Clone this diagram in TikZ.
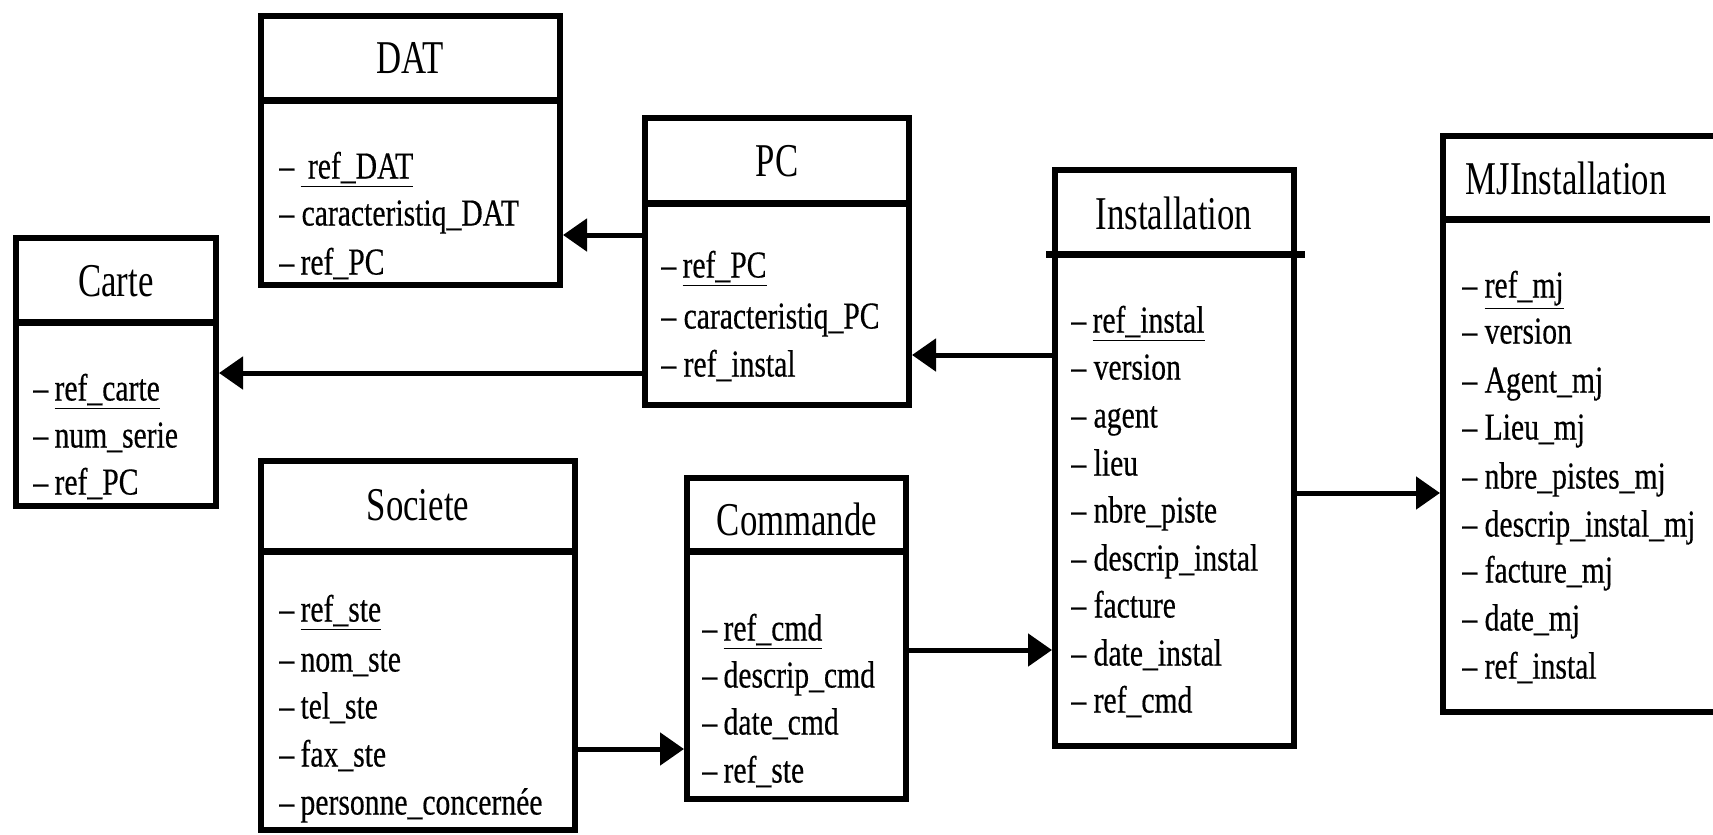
\documentclass[tikz,border=0pt]{standalone}
\usepackage{fontspec}
\setmainfont[FakeStretch=0.78,FakeBold=0.4]{Liberation Serif}
\newfontfamily\ttlfont[FakeStretch=0.74]{Liberation Serif}
\usetikzlibrary{arrows.meta,fit}
\begin{document}
\begin{tikzpicture}[x=0.5pt,y=-0.5pt,
  box/.style={draw, line width=3pt, inner sep=0pt},
  divider/.style={line width=3.5pt},
  ttl/.style={inner sep=0pt, font=\ttlfont\fontsize{23.5}{26}\selectfont},
  attr/.style={anchor=west, inner sep=0pt, font=\fontsize{19}{21}\selectfont, text height=12.5pt, text depth=0pt},
  conn/.style={line width=2.5pt, -{Triangle[length=12pt,width=16pt]}}]
\clip (0,0) rectangle (1713,835);
% DAT
\node[box, fit={(261,16) (560,285)}] (dat) {};
\draw[divider] (dat.west |- 0,100) -- (dat.east |- 0,100);
\node[ttl] (datT) at (410,58) {DAT};
\node[attr] (dat1) at (279,166) {–\,\underline{\ ref\_DAT}};
\node[attr] (dat2) at (279,213) {– caracteristiq\_DAT};
\node[attr] (dat3) at (279,262) {–\,ref\_PC};
% Carte
\node[box, fit={(16,238) (216,506)}] (carte) {};
\draw[divider] (carte.west |- 0,322) -- (carte.east |- 0,322);
\node[ttl] (carteT) at (116,281) {Carte};
\node[attr] (carte1) at (33,388) {–\,\underline{ref\_carte}};
\node[attr] (carte2) at (33,435) {–\,num\_serie};
\node[attr] (carte3) at (33,482) {–\,ref\_PC};
% PC
\node[box, fit={(645,118) (909,405)}] (pc) {};
\draw[divider] (pc.west |- 0,203) -- (pc.east |- 0,203);
\node[ttl] (pcT) at (777,161) {PC};
\node[attr] (pc1) at (661,265) {–\,\underline{ref\_PC}};
\node[attr] (pc2) at (661,316) {– caracteristiq\_PC};
\node[attr] (pc3) at (661,364) {– ref\_instal};
% Installation
\node[box, fit={(1055,170) (1294,746)}] (inst) {};
\draw[divider] ([xshift=-3pt]inst.west |- 0,254) -- ([xshift=4pt]inst.east |- 0,254);
\node[ttl] (instT) at (1174,213) {Installation};
\node[attr] (inst1) at (1071,320) {–\,\underline{ref\_instal}};
\node[attr] (inst2) at (1071,367) {– version};
\node[attr] (inst3) at (1071,415) {– agent};
\node[attr] (inst4) at (1071,463) {– lieu};
\node[attr] (inst5) at (1071,510) {– nbre\_piste};
\node[attr] (inst6) at (1071,558) {– descrip\_instal};
\node[attr] (inst7) at (1071,605) {– facture};
\node[attr] (inst8) at (1071,653) {– date\_instal};
\node[attr] (inst9) at (1071,700) {– ref\_cmd};
% MJInstallation
\node[box, fit={(1443,136) (1740,712)}] (mj) {};
\draw[divider] (mj.west |- 0,219) -- (1710,219);
\node[ttl] (mjT) at (1566,178) {MJInstallation};
\node[attr] (mj1) at (1462,285) {– \underline{ref\_mj}};
\node[attr] (mj2) at (1462,331) {– version};
\node[attr] (mj3) at (1462,380) {– Agent\_mj};
\node[attr] (mj4) at (1462,427) {– Lieu\_mj};
\node[attr] (mj5) at (1462,476) {– nbre\_pistes\_mj};
\node[attr] (mj6) at (1462,524) {– descrip\_instal\_mj};
\node[attr] (mj7) at (1462,570) {– facture\_mj};
\node[attr] (mj8) at (1462,618) {– date\_mj};
\node[attr] (mj9) at (1462,666) {– ref\_instal};
% Societe
\node[box, fit={(261,461) (575,830)}] (ste) {};
\draw[divider] (ste.west |- 0,551) -- (ste.east |- 0,551);
\node[ttl] (steT) at (418,505) {Societe};
\node[attr] (ste1) at (279,609) {–\,\underline{ref\_ste}};
\node[attr] (ste2) at (279,659) {–\,nom\_ste};
\node[attr] (ste3) at (279,706) {–\,tel\_ste};
\node[attr] (ste4) at (279,754) {–\,fax\_ste};
\node[attr] (ste5) at (279,802) {–\,personne\_concernée};
% Commande
\node[box, fit={(687,478) (906,799)}] (cmd) {};
\draw[divider] (cmd.west |- 0,551) -- (cmd.east |- 0,551);
\node[ttl] (cmdT) at (797,519) {Commande};
\node[attr] (cmd1) at (702,628) {–\,\underline{ref\_cmd}};
\node[attr] (cmd2) at (702,675) {–\,descrip\_cmd};
\node[attr] (cmd3) at (702,722) {–\,date\_cmd};
\node[attr] (cmd4) at (702,770) {–\,ref\_ste};
% connectors
\draw[conn] (pc.west |- 0,235) -- (dat.east |- 0,235);
\draw[conn] (pc.west |- 0,373) -- (carte.east |- 0,373);
\draw[conn] (inst.west |- 0,355) -- (pc.east |- 0,355);
\draw[conn] (ste.east |- 0,749) -- (cmd.west |- 0,749);
\draw[conn] (cmd.east |- 0,650) -- (inst.west |- 0,650);
\draw[conn] (inst.east |- 0,493) -- (mj.west |- 0,493);
\end{tikzpicture}
\end{document}
